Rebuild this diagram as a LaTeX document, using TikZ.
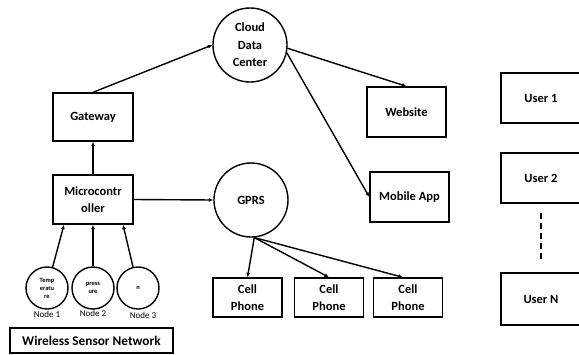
\documentclass[tikz,border=0pt]{standalone}
\usepackage{fontspec}
\setmainfont{Carlito}
\usetikzlibrary{arrows.meta,positioning}
\tikzset
{
    block/.style = {rectangle, draw=black, line width=1.4pt, align=center, inner sep=1pt, font=\bfseries\fontsize{12.5}{17.5}\selectfont},
    hub/.style = {circle, draw=black, line width=1.4pt, align=center, inner sep=0pt, minimum size=74pt, font=\bfseries\fontsize{12.5}{17.5}\selectfont},
    sensor/.style = {circle, draw=black, line width=1.4pt, align=center, inner sep=0pt, minimum size=42pt, font=\bfseries\fontsize{6.5}{8}\selectfont},
    tag/.style = {font=\fontsize{9}{10}\selectfont},
    link/.style = {line width=1.4pt, -{Latex[length=4.5pt,width=4pt]}}
}

\begin{document}
\begin{tikzpicture}[x=1pt, y=-1pt]
	\clip (0,0) rectangle (579,354);
	% cloud side
	\node[hub] (cloud) at (250,45) {Cloud\\Data\\Center};
	\node[block, minimum width=80pt, minimum height=48pt] (gw) at (93,117) {Gateway};
	\node[block, minimum width=80pt, minimum height=49pt] (micro) at (93,199.5) {Microcontr\\oller};
	\node[block, minimum width=79pt, minimum height=50pt] (web) at (406.5,112) {Website};
	\node[block, minimum width=79pt, minimum height=50pt] (mob) at (409.5,197) {Mobile App};
	% gprs side
	\node[hub] (gprs) at (251,200) {GPRS};
	\node[block, minimum width=69pt, minimum height=39pt] (cell1) at (247.5,297.5) {Cell\\Phone};
	\node[block, minimum width=69pt, minimum height=39pt] (cell2) at (329,297.5) {Cell\\Phone};
	\node[block, minimum width=69pt, minimum height=39pt] (cell3) at (408,297.5) {Cell\\Phone};
	% users
	\node[block, minimum width=80pt, minimum height=50pt] (u1) at (541,98) {User 1};
	\node[block, minimum width=80pt, minimum height=50pt] (u2) at (541,178) {User 2};
	\node[block, minimum width=80pt, minimum height=52pt] (un) at (541,299) {User N};
	% sensor network
	\node[sensor] (s1) at (47,288) {Temp\\eratu\\re};
	\node[sensor] (s2) at (93,288) {press\\ure};
	\node[sensor] (s3) at (138,288) {n};
	\node[tag] (l1) at (47,314) {Node 1};
	\node[tag] (l2) at (93,313) {Node 2};
	\node[tag] (l3) at (143,315) {Node 3};
	\node[block, minimum width=163pt, minimum height=25pt, font=\bfseries\fontsize{13.3}{15}\selectfont] (wsn) at (91.5,340.5) {Wireless Sensor Network};

	\draw[link] (gw.north) -- (cloud.west);
	\draw[link] (micro) -- (gw);
	\draw[link] (micro.east) -- (gprs.west);
	\draw[link] (cloud.-5) -- (web.north);
	\draw[link] (cloud.-12) -- (mob.west);
	\draw[link] (gprs.-85) -- (cell1.north);
	\draw[link] (gprs.-85) -- (cell2.north);
	\draw[link] (gprs.-85) -- ([xshift=-5pt]cell3.north);
	\draw[link] (s1) -- (micro.-139);
	\draw[link] (s2) -- (micro.south);
	\draw[link] (s3) -- (micro.-40);
	\draw[line width=1.4pt, dash pattern=on 6pt off 4pt, shorten <=9pt, shorten >=13pt] (u2) -- (un);
\end{tikzpicture}
\end{document}
